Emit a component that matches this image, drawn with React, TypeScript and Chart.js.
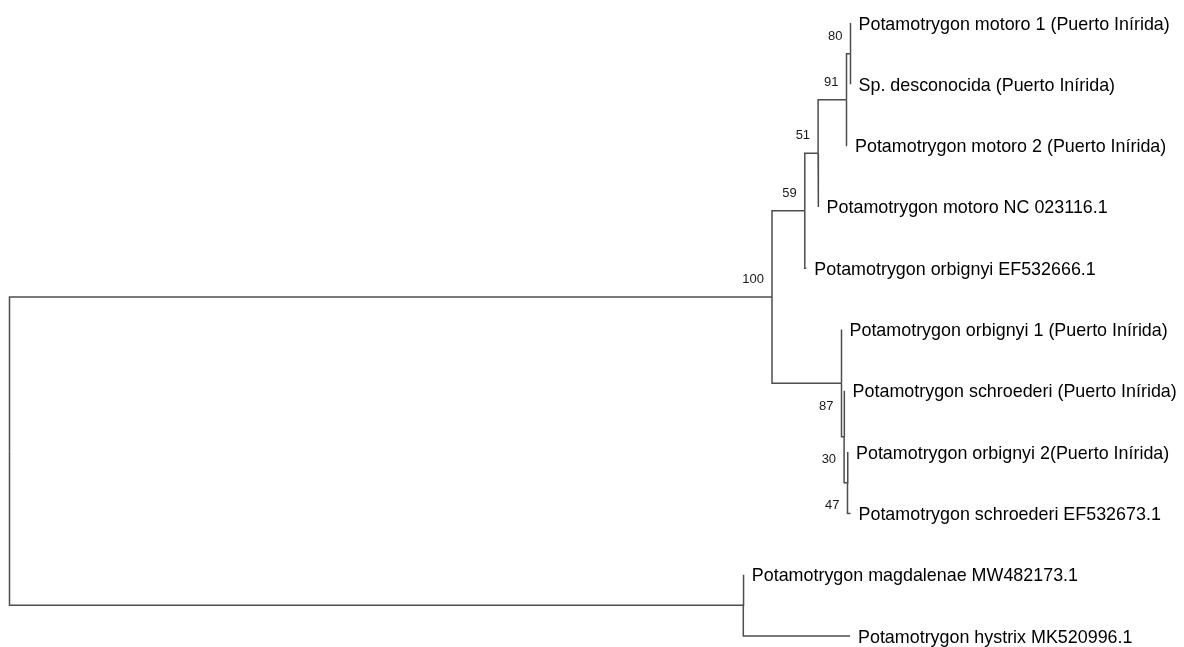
import React, { useEffect, useRef } from 'react';
import { Chart, registerables } from 'chart.js';

Chart.register(...registerables);

// ---------------- DATA ----------------
// Leaves (top to bottom)
const leafNames = [
  'Potamotrygon motoro 1 (Puerto Inírida)',
  'Sp. desconocida (Puerto Inírida)',
  'Potamotrygon motoro 2 (Puerto Inírida)',
  'Potamotrygon motoro NC 023116.1',
  'Potamotrygon orbignyi EF532666.1',
  'Potamotrygon orbignyi 1 (Puerto Inírida)',
  'Potamotrygon schroederi (Puerto Inírida)',
  'Potamotrygon orbignyi 2(Puerto Inírida)',
  'Potamotrygon schroederi EF532673.1',
  'Potamotrygon magdalenae MW482173.1',
  'Potamotrygon hystrix MK520996.1',
];
const leafParents = ['n80', 'n80', 'n91', 'n51', 'n59', 'nB', 'nX', 'nY', 'nY', 'nOut', 'nOut'];
const leafBranchLengths = [0, 0, 0.0005, 0.0005, 0.0015, 0, 0.0005, 0.0005, 0.003, 0.0005, 0.1067];

// Internal nodes
const internalNodes = ['root', 'n100', 'n59', 'n51', 'n91', 'n80', 'nB', 'nX', 'nY', 'nOut'];
const internalParents = [null, 'root', 'n100', 'n59', 'n51', 'n91', 'n100', 'nB', 'nX', 'root'];
const internalBranchLengths = [0, 0.7625, 0.0328, 0.0133, 0.0284, 0.004, 0.0695, 0.0026, 0.0034, 0.7338];
const bootstrapValues = [null, 100, 59, 51, 91, 80, 87, 30, 47, null];

// ---------------- TREE LAYOUT (derived) ----------------
const children: Record<string, string[]> = {};
const parentOf: Record<string, string | null> = {};
const branchLen: Record<string, number> = {};
internalNodes.forEach((n, i) => {
  children[n] = [];
  parentOf[n] = internalParents[i];
  branchLen[n] = internalBranchLengths[i];
});
internalNodes.forEach((n, i) => {
  const p = internalParents[i];
  if (p) children[p].push(n);
});
leafNames.forEach((n, i) => {
  children[leafParents[i]].push(n);
  parentOf[n] = leafParents[i];
  branchLen[n] = leafBranchLengths[i];
});

const depth: Record<string, number> = {};
const row: Record<string, number> = {};
function computeDepth(n: string, d: number) {
  depth[n] = d;
  (children[n] || []).forEach((c) => computeDepth(c, d + branchLen[c]));
}
function computeRow(n: string): number {
  const li = leafNames.indexOf(n);
  if (li >= 0) {
    row[n] = li;
    return li;
  }
  const ys = children[n].map(computeRow);
  row[n] = (Math.min(...ys) + Math.max(...ys)) / 2;
  return row[n];
}
computeDepth('root', 0);
computeRow('root');

const allNodes = [...internalNodes, ...leafNames];

// ---------------- STYLE ----------------
const LINE_COLOR = '#4d4d4d';
const LEAF_FONT = '17.9px "Liberation Sans", Arial, sans-serif';
const BOOT_FONT = '13px "Liberation Sans", Arial, sans-serif';
const bootBelow: Record<string, boolean> = { nB: true, nX: true, nY: true };

const treeLabels = {
  id: 'treeLabels',
  afterDatasetsDraw(chart: any) {
    const { ctx } = chart;
    const xs = chart.scales.x;
    const ys = chart.scales.y;
    ctx.save();
    ctx.fillStyle = '#000000';
    ctx.font = LEAF_FONT;
    ctx.textAlign = 'left';
    ctx.textBaseline = 'alphabetic';
    leafNames.forEach((n) => {
      ctx.fillText(n, xs.getPixelForValue(depth[n]) + 8, ys.getPixelForValue(row[n]) + 6.5);
    });
    ctx.font = BOOT_FONT;
    ctx.fillStyle = '#1a1a1a';
    ctx.textAlign = 'right';
    internalNodes.forEach((n, i) => {
      const v = bootstrapValues[i];
      if (v === null) return;
      const px = xs.getPixelForValue(depth[n]) - 8;
      const py = ys.getPixelForValue(row[n]) + (bootBelow[n] ? 26.5 : -14);
      ctx.fillText(String(v), px, py);
    });
    ctx.restore();
  },
};

export default function App() {
  const ref = useRef<HTMLCanvasElement>(null);
  useEffect(() => {
    document.body.style.margin = '0';
    const canvas = ref.current;
    if (!canvas) return;
    const datasets = allNodes
      .filter((n) => parentOf[n])
      .map((c) => {
        const p = parentOf[c] as string;
        return {
          data: [
            { x: depth[p], y: row[p] },
            { x: depth[p], y: row[c] },
            { x: depth[c], y: row[c] },
          ],
          showLine: true,
          borderColor: LINE_COLOR,
          borderWidth: 1.5,
          pointRadius: 0,
          pointHoverRadius: 0,
          tension: 0,
          fill: false,
          clip: false as any,
        };
      });
    const chart = new Chart(canvas, {
      type: 'scatter',
      data: { datasets },
      options: {
        animation: false,
        responsive: false,
        devicePixelRatio: 1,
        layout: { padding: { left: 9.5, right: 324.5, top: 23, bottom: 11 } },
        scales: {
          x: { type: 'linear', min: 0, max: 0.85, display: false },
          y: { type: 'linear', min: 0, max: 10, reverse: true, display: false },
        },
        plugins: { legend: { display: false }, tooltip: { enabled: false } },
        events: [],
      },
      plugins: [treeLabels],
    });
    return () => chart.destroy();
  }, []);
  return (
    <div style={{ position: 'fixed', left: 0, top: 0, width: 1184, height: 647, background: '#ffffff' }}>
      <canvas ref={ref} width={1184} height={647} style={{ display: 'block' }} />
    </div>
  );
}
